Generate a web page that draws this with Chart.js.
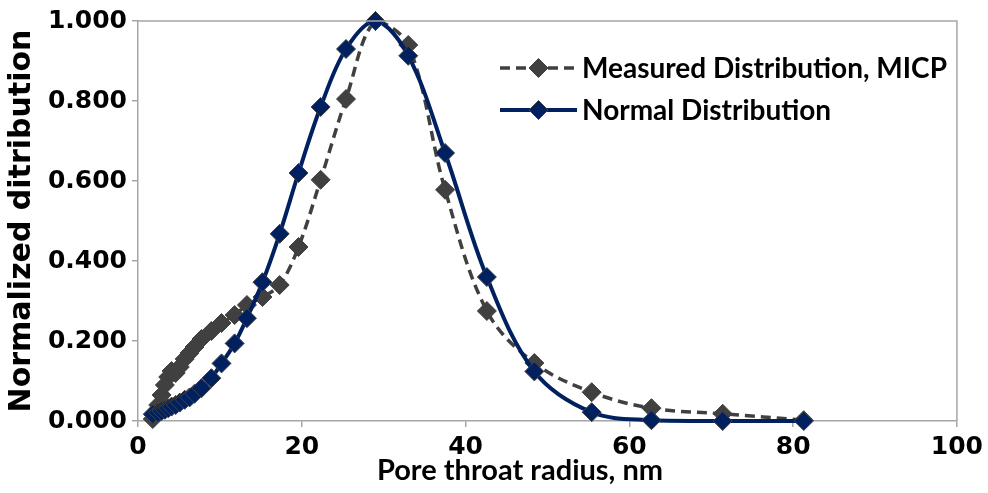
<!DOCTYPE html>
<html><head><meta charset="utf-8">
<script src="https://cdn.jsdelivr.net/npm/chart.js@4.4.0/dist/chart.umd.min.js"></script>
<style>html,body{margin:0;padding:0;background:#fff;}#wrap{width:988px;height:493px;position:relative;}</style>
</head><body><div id="wrap"><canvas id="c" width="988" height="493"></canvas></div>
<script>
const poreRadius = [1.8, 2.47, 2.88, 3.28, 3.69, 4.1, 4.6, 5.1, 5.7, 6.3, 6.9, 7.75, 8.96, 10.2, 11.8, 13.3, 15.2, 17.3, 19.6, 22.3, 25.4, 29.0, 33.0, 37.5, 42.6, 48.4, 55.4, 62.7, 71.4, 81.3];
const measuredMICP = [0.005, 0.04, 0.065, 0.09, 0.11, 0.125, 0.12, 0.135, 0.155, 0.17, 0.185, 0.205, 0.225, 0.245, 0.265, 0.29, 0.31, 0.34, 0.435, 0.603, 0.805, 1.000, 0.940, 0.578, 0.275, 0.145, 0.072, 0.032, 0.018, 0.002];
const normalDist = [0.017, 0.021, 0.025, 0.028, 0.032, 0.036, 0.040, 0.046, 0.053, 0.059, 0.068, 0.082, 0.107, 0.144, 0.194, 0.257, 0.347, 0.468, 0.620, 0.785, 0.930, 1.000, 0.913, 0.670, 0.360, 0.124, 0.022, 0.002, 0.000, 0.000];
const seriesNames = ['Measured Distribution, MICP', 'Normal Distribution'];
const xTickValues = [0, 20, 40, 60, 80, 100];
const yTickValues = [0, 0.2, 0.4, 0.6, 0.8, 1.0];
const xTitle = 'Pore throat radius, nm';
const yTitle = 'Normalized ditribution';

const WIDE = '"DejaVu Sans", Verdana, sans-serif';
const NARROW = 'Lato, Carlito, Calibri, sans-serif';
const AXIS_GRAY = '#a6a6a6';

function pts(ys){ return poreRadius.map((x,i)=>({x:x, y:ys[i]})); }

const framePlugin = {
  id: 'frameLegend',
  afterDraw(chart){
    const ctx = chart.ctx, a = chart.chartArea;
    ctx.save();
    // top and right plot-area border
    ctx.strokeStyle = AXIS_GRAY; ctx.lineWidth = 1.5;
    ctx.beginPath();
    ctx.moveTo(a.left, a.top); ctx.lineTo(a.right, a.top); ctx.lineTo(a.right, a.bottom);
    ctx.stroke();
    // x-axis title
    ctx.fillStyle = '#000';
    ctx.font = 'bold 29px ' + NARROW;
    ctx.textAlign = 'center'; ctx.textBaseline = 'middle';
    ctx.fillText(xTitle, 520, 471);
    // legend
    chart.data.datasets.forEach((ds, i) => {
      const y = 68 + i * 42;
      ctx.strokeStyle = ds.borderColor; ctx.lineWidth = ds.borderWidth;
      ctx.setLineDash(ds.borderDash || []);
      ctx.beginPath(); ctx.moveTo(500, y); ctx.lineTo(577, y); ctx.stroke();
      ctx.setLineDash([]);
      const r = ds.pointRadius, cx = 538.5;
      ctx.beginPath();
      ctx.moveTo(cx - r, y); ctx.lineTo(cx, y - r); ctx.lineTo(cx + r, y); ctx.lineTo(cx, y + r); ctx.closePath();
      ctx.fillStyle = ds.pointBackgroundColor; ctx.fill();
      ctx.strokeStyle = ds.pointBorderColor; ctx.lineWidth = ds.pointBorderWidth; ctx.stroke();
      ctx.fillStyle = '#000';
      ctx.font = 'bold 28px ' + NARROW;
      ctx.textAlign = 'left'; ctx.textBaseline = 'middle';
      ctx.fillText(ds.label, 582, y + 1);
    });
    ctx.restore();
  }
};

new Chart(document.getElementById('c'), {
  type: 'scatter',
  data: {
    datasets: [
      {
        label: seriesNames[0], data: pts(measuredMICP), showLine: true,
        borderColor: '#404040', borderWidth: 3.5, borderDash: [10, 6], tension: 0.35,
        pointStyle: 'rectRot', pointRadius: 9.5, pointBackgroundColor: '#404040',
        pointBorderColor: '#404040', pointBorderWidth: 1, clip: false, order: 2
      },
      {
        label: seriesNames[1], data: pts(normalDist), showLine: true,
        borderColor: '#002060', borderWidth: 4, tension: 0.35,
        pointStyle: 'rectRot', pointRadius: 9.5, pointBackgroundColor: '#002060',
        pointBorderColor: '#404040', pointBorderWidth: 1, clip: false, order: 1
      }
    ]
  },
  options: {
    responsive: false, animation: false, devicePixelRatio: 1,
    layout: { padding: { top: 21, right: 28, left: 0, bottom: 0 } },
    plugins: { legend: { display: false }, tooltip: { enabled: false } },
    scales: {
      x: {
        type: 'linear', min: 0, max: 100,
        afterBuildTicks: s => { s.ticks = xTickValues.map(v => ({ value: v })); },
        afterFit: s => { s.height = 72; },
        ticks: { color: '#000', font: { family: WIDE, size: 25, weight: 'bold' }, padding: 5, maxRotation: 0 },
        grid: { drawOnChartArea: false, drawTicks: true, tickLength: 6, color: AXIS_GRAY, lineWidth: 1.5 },
        border: { display: true, color: AXIS_GRAY, width: 1.5 },
        title: { display: false, text: xTitle }
      },
      y: {
        type: 'linear', min: 0, max: 1,
        afterBuildTicks: s => { s.ticks = yTickValues.map(v => ({ value: v })); },
        afterFit: s => { s.width = 138; },
        ticks: { color: '#000', font: { family: WIDE, size: 25, weight: 'bold' }, padding: 5, callback: v => Number(v).toFixed(3) },
        grid: { drawOnChartArea: false, drawTicks: true, tickLength: 6, color: AXIS_GRAY, lineWidth: 1.5 },
        border: { display: true, color: AXIS_GRAY, width: 1.5 },
        title: { display: true, text: yTitle, color: '#000', font: { family: WIDE, size: 30, weight: 'bold' }, padding: { top: 4, bottom: 0 } }
      }
    }
  },
  plugins: [framePlugin]
});
</script>
</body></html>
